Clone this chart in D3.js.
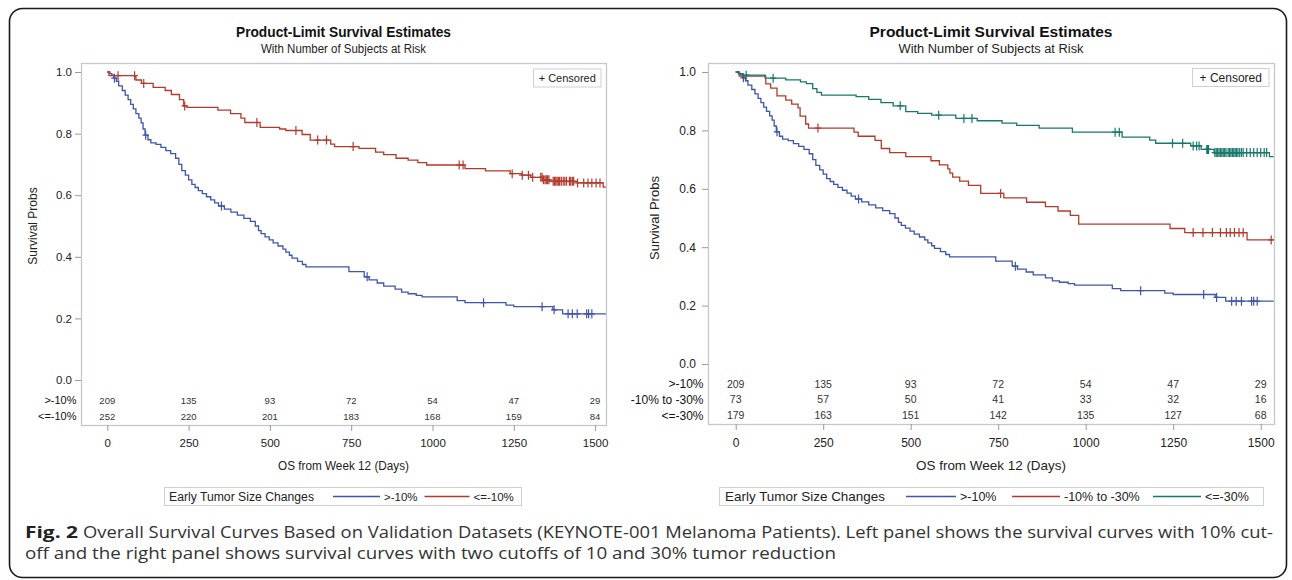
<!DOCTYPE html>
<html><head><meta charset="utf-8">
<script src="https://cdn.jsdelivr.net/npm/d3@7"></script>
<style>body{margin:0;background:#fff}svg{display:block}</style>
</head><body>
<script>
// ---------------- data ----------------
const xTicks = [0, 250, 500, 750, 1000, 1250, 1500];
const yTicks = [0, 0.2, 0.4, 0.6, 0.8, 1.0];
const chartTitle = "Product-Limit Survival Estimates";
const chartSubtitle = "With Number of Subjects at Risk";
const yLabel = "Survival Probs";
const xLabel = "OS from Week 12 (Days)";
const legendTitle = "Early Tumor Size Changes";
const censoredLabel = "+ Censored";
const groupsLeft = [">-10%", "<=-10%"];
const groupsRight = [">-10%", "-10% to -30%", "<=-30%"];
const riskGt10 = [209, 135, 93, 72, 54, 47, 29];
const riskLe10 = [252, 220, 201, 183, 168, 159, 84];
const riskMid = [73, 57, 50, 41, 33, 32, 16];
const riskLe30 = [179, 163, 151, 142, 135, 127, 68];

// >-10% group (same in both panels)
const gt10Days = [0, 8, 14, 20, 28, 35, 46, 55, 64, 72, 80, 88, 97, 104, 110, 116, 125, 134, 150, 165, 180, 195, 210, 220, 229, 240, 250, 260, 270, 280, 292, 305, 318, 330, 342, 360, 380, 400, 420, 440, 455, 465, 473, 485, 498, 510, 525, 540, 549, 560, 568, 585, 600, 611, 743, 790, 805, 830, 850, 885, 905, 925, 950, 968, 1076, 1100, 1226, 1250, 1370, 1400];
const gt10Surv = [1.0, 0.995, 0.99, 0.98, 0.97, 0.955, 0.94, 0.925, 0.91, 0.895, 0.88, 0.865, 0.85, 0.835, 0.815, 0.795, 0.78, 0.77, 0.765, 0.755, 0.745, 0.735, 0.72, 0.70, 0.68, 0.665, 0.65, 0.635, 0.625, 0.615, 0.605, 0.595, 0.585, 0.575, 0.565, 0.555, 0.545, 0.535, 0.525, 0.515, 0.50, 0.485, 0.475, 0.465, 0.455, 0.445, 0.435, 0.425, 0.415, 0.405, 0.396, 0.385, 0.375, 0.367, 0.352, 0.335, 0.325, 0.315, 0.305, 0.295, 0.285, 0.28, 0.275, 0.27, 0.258, 0.251, 0.243, 0.238, 0.228, 0.215];
const gt10Cens = [22, 118, 351, 799, 1157, 1337, 1374, 1417, 1430, 1445, 1474, 1480, 1490];

// <=-10% group (left panel)
const le10Days = [0, 5, 88, 105, 141, 178, 197, 222, 235, 245, 340, 379, 411, 423, 470, 530, 549, 599, 624, 687, 699, 774, 825, 850, 888, 925, 955, 982, 1100, 1163, 1239, 1275, 1302, 1340, 1360, 1445, 1525];
const le10Surv = [1.0, 0.988, 0.974, 0.963, 0.95, 0.94, 0.927, 0.91, 0.89, 0.885, 0.876, 0.865, 0.85, 0.836, 0.82, 0.815, 0.81, 0.797, 0.779, 0.766, 0.758, 0.752, 0.74, 0.732, 0.72, 0.714, 0.706, 0.698, 0.686, 0.679, 0.67, 0.665, 0.658, 0.65, 0.645, 0.64, 0.626];
const le10Cens = [33, 84, 112, 238, 460, 580, 647, 674, 756, 1082, 1094, 1245, 1276, 1295, 1308, 1333, 1337, 1341, 1346, 1350, 1354, 1358, 1371, 1375, 1379, 1383, 1387, 1391, 1396, 1402, 1407, 1412, 1421, 1425, 1430, 1434, 1446, 1465, 1478, 1490, 1503, 1515];

// -10% to -30% group (right panel)
const midDays = [0, 10, 86, 100, 118, 143, 160, 178, 184, 200, 208, 338, 350, 398, 416, 440, 486, 558, 582, 606, 612, 620, 640, 665, 700, 766, 831, 885, 921, 956, 980, 1241, 1283, 1461];
const midSurv = [1.0, 0.986, 0.959, 0.945, 0.918, 0.904, 0.89, 0.877, 0.849, 0.822, 0.808, 0.794, 0.78, 0.766, 0.738, 0.724, 0.71, 0.696, 0.682, 0.668, 0.654, 0.64, 0.626, 0.612, 0.584, 0.569, 0.554, 0.539, 0.524, 0.509, 0.479, 0.464, 0.45, 0.425];
const midCens = [235, 757, 1307, 1335, 1362, 1385, 1402, 1413, 1425, 1438, 1450, 1530];

// <=-30% group (right panel)
const le30Days = [0, 8, 20, 84, 143, 185, 202, 220, 232, 245, 344, 380, 415, 450, 486, 520, 560, 629, 690, 761, 803, 867, 962, 1104, 1183, 1200, 1300, 1330, 1367, 1525];
const le30Surv = [1.0, 0.994, 0.989, 0.979, 0.973, 0.966, 0.96, 0.943, 0.93, 0.921, 0.916, 0.906, 0.895, 0.884, 0.864, 0.858, 0.852, 0.841, 0.833, 0.825, 0.817, 0.808, 0.794, 0.777, 0.767, 0.756, 0.747, 0.735, 0.724, 0.71];
const le30Cens = [30, 107, 470, 580, 652, 675, 1084, 1096, 1248, 1277, 1307, 1317, 1324, 1346, 1348, 1351, 1369, 1373, 1377, 1381, 1385, 1389, 1393, 1397, 1401, 1407, 1411, 1415, 1419, 1423, 1427, 1431, 1435, 1440, 1445, 1450, 1460, 1470, 1480, 1490, 1500, 1510, 1517];

const captionBold = "Fig. 2";
const captionLine1 = "Overall Survival Curves Based on Validation Datasets (KEYNOTE-001 Melanoma Patients). Left panel shows the survival curves with 10% cut-";
const captionLine2 = "off and the right panel shows survival curves with two cutoffs of 10 and 30% tumor reduction";

// ---------------- drawing ----------------
const FONT = '"Liberation Sans", Arial, Helvetica, sans-serif';
const BLUE = "#3f55a9", RED = "#b23a2d", TEAL = "#17786b";
const W = 1292, H = 580;
const svg = d3.select("body").append("svg").attr("width", W).attr("height", H)
  .style("font-family", FONT);

svg.append("rect").attr("x", 9.5).attr("y", 8.5).attr("width", 1277).attr("height", 569)
  .attr("rx", 13).attr("fill", "none").attr("stroke", "#1a1a1a").attr("stroke-width", 1.6);

function survAt(days, surv, t) {
  const i = d3.bisectRight(days, t) - 1;
  return surv[Math.max(0, i)];
}

function drawPanel(cfg, idx) {
  const g = svg.append("g");
  const x = d3.scaleLinear().domain([0, 1500]).range(cfg.xr);
  const y = d3.scaleLinear().domain([0, 1]).range(cfg.yr);
  const cx = (cfg.x0 + cfg.x1) / 2;

  // titles
  g.append("text").attr("x", cx).attr("y", 37).attr("text-anchor", "middle")
    .attr("font-weight", "bold").attr("font-size", 14.5).attr("fill", "#111")
    .attr("textLength", cfg.titleW).attr("lengthAdjust", "spacingAndGlyphs").text(chartTitle);
  g.append("text").attr("x", cx).attr("y", 53).attr("text-anchor", "middle")
    .attr("font-size", 12).attr("fill", "#222")
    .attr("textLength", cfg.subW).attr("lengthAdjust", "spacingAndGlyphs").text(chartSubtitle);

  // frame
  g.append("rect").attr("x", cfg.x0 + 0.5).attr("y", cfg.y0 + 0.5)
    .attr("width", cfg.x1 - cfg.x0).attr("height", cfg.y1 - cfg.y0)
    .attr("fill", "none").attr("stroke", "#c4c8cc").attr("stroke-width", 1.3);

  // y axis
  const ya = g.append("g").attr("transform", `translate(${cfg.x0},0)`)
    .call(d3.axisLeft(y).tickValues(yTicks).tickFormat(d3.format(".1f")).tickSize(6).tickPadding(cfg.yPad));
  ya.select(".domain").remove();
  ya.selectAll(".tick line").attr("stroke", "#9a9a9a");
  ya.selectAll(".tick text").attr("font-family", FONT).attr("font-size", cfg.tickFs).attr("fill", "#222");

  // x axis
  const xa = g.append("g").attr("transform", `translate(0,${cfg.y1})`)
    .call(d3.axisBottom(x).tickValues(xTicks).tickFormat(d3.format("d")).tickSize(6).tickPadding(8));
  xa.select(".domain").remove();
  xa.selectAll(".tick line").attr("stroke", "#9a9a9a");
  xa.selectAll(".tick text").attr("font-family", FONT).attr("font-size", cfg.tickFs).attr("fill", "#222");

  // axis labels
  g.append("text").attr("transform", `translate(${cfg.ylx},${(cfg.yr[0] + cfg.yr[1]) / 2}) rotate(-90)`)
    .attr("text-anchor", "middle").attr("font-size", cfg.labFs).attr("fill", "#222").text(yLabel);
  g.append("text").attr("x", cx).attr("y", 470).attr("text-anchor", "middle")
    .attr("font-size", cfg.labFs).attr("fill", "#222")
    .attr("textLength", cfg.xlabW).attr("lengthAdjust", "spacingAndGlyphs").text(xLabel);

  // clip
  const clipId = "clip" + idx;
  g.append("clipPath").attr("id", clipId).append("rect")
    .attr("x", cfg.x0 + 1).attr("y", cfg.y0 + 1).attr("width", cfg.x1 - cfg.x0 - 1).attr("height", cfg.y1 - cfg.y0 - 1);
  const plot = g.append("g").attr("clip-path", `url(#${clipId})`);

  const line = d3.line().x(d => x(d[0])).y(d => y(d[1])).curve(d3.curveStepAfter);
  cfg.series.forEach(s => {
    const pts = s.days.map((d, i) => [d, s.surv[i]]);
    pts.push([cfg.end, s.surv[s.surv.length - 1]]);
    plot.append("path").attr("d", line(pts)).attr("fill", "none")
      .attr("stroke", s.color).attr("stroke-width", 1.3);
    plot.append("g").selectAll("path").data(s.cens).join("path")
      .attr("d", t => {
        const px = x(t), py = y(survAt(s.days, s.surv, t));
        return `M${px - 3.2},${py}H${px + 3.2}M${px},${py - 4.5}V${py + 4.5}`;
      })
      .attr("stroke", s.color).attr("stroke-width", 1.2).attr("fill", "none");
  });

  // censored legend
  g.append("rect").attr("x", cfg.cens[0]).attr("y", cfg.cens[1]).attr("width", cfg.cens[2]).attr("height", 18)
    .attr("fill", "#fff").attr("stroke", "#d0d0d0");
  g.append("text").attr("x", cfg.cens[0] + cfg.cens[2] / 2).attr("y", cfg.cens[1] + 9).attr("dy", "0.35em")
    .attr("text-anchor", "middle").attr("font-size", cfg.censFs).attr("fill", "#222").text(censoredLabel);

  // at-risk table
  cfg.risk.forEach((r, i) => {
    g.append("text").attr("x", cfg.x0 - 4.5).attr("y", cfg.rowsY[i]).attr("dy", "0.35em")
      .attr("text-anchor", "end").attr("font-size", cfg.rowFs).attr("fill", "#111").text(r.label);
    g.append("g").selectAll("text").data(r.values).join("text")
      .attr("x", (v, j) => x(xTicks[j])).attr("y", cfg.rowsY[i]).attr("dy", "0.35em")
      .attr("text-anchor", "middle").attr("font-size", cfg.numFs).attr("fill", "#333").text(v => v);
  });

  // bottom legend
  const lg = cfg.legend;
  g.append("rect").attr("x", lg.box[0]).attr("y", 487.5).attr("width", lg.box[1] - lg.box[0]).attr("height", 18)
    .attr("fill", "#fff").attr("stroke", "#d0d0d0");
  g.append("text").attr("x", lg.titleX).attr("y", 496.5).attr("dy", "0.35em")
    .attr("font-size", lg.fs).attr("fill", "#222")
    .attr("textLength", lg.titleW).attr("lengthAdjust", "spacingAndGlyphs").text(legendTitle);
  lg.items.forEach(it => {
    g.append("line").attr("x1", it.l0).attr("x2", it.l1).attr("y1", 496.5).attr("y2", 496.5)
      .attr("stroke", it.color).attr("stroke-width", 1.3);
    g.append("text").attr("x", it.l1 + 4).attr("y", 496.5).attr("dy", "0.35em")
      .attr("font-size", lg.fs - 0.5).attr("fill", "#222").text(it.label);
  });
}

drawPanel({
  x0: 81, x1: 606, y0: 63, y1: 425, xr: [107.3, 595.1], yr: [380, 72], end: 1533,
  titleW: 215, subW: 165, xlabW: 131, ylx: 37, labFs: 12, tickFs: 11.5, yPad: 3,
  rowsY: [400.5, 416.5], rowFs: 11, numFs: 9.5,
  cens: [533.5, 69, 67.5], censFs: 11,
  series: [
    { days: gt10Days, surv: gt10Surv, cens: gt10Cens, color: BLUE },
    { days: le10Days, surv: le10Surv, cens: le10Cens, color: RED }
  ],
  risk: [
    { label: groupsLeft[0], values: riskGt10 },
    { label: groupsLeft[1], values: riskLe10 }
  ],
  legend: {
    box: [164.5, 521.5], titleX: 169, titleW: 145, fs: 12,
    items: [
      { l0: 333, l1: 380, color: BLUE, label: groupsLeft[0] },
      { l0: 424.5, l1: 469.5, color: RED, label: groupsLeft[1] }
    ]
  }
}, 0);

drawPanel({
  x0: 708, x1: 1274, y0: 63, y1: 424, xr: [735.7, 1260.7], yr: [364, 72], end: 1537,
  titleW: 243, subW: 185, xlabW: 150, ylx: 659, labFs: 13, tickFs: 12, yPad: 6,
  rowsY: [384, 399.5, 415.5], rowFs: 12, numFs: 10.5,
  cens: [1192.5, 68.5, 76.5], censFs: 12,
  series: [
    { days: gt10Days, surv: gt10Surv, cens: gt10Cens, color: BLUE },
    { days: midDays, surv: midSurv, cens: midCens, color: RED },
    { days: le30Days, surv: le30Surv, cens: le30Cens, color: TEAL }
  ],
  risk: [
    { label: groupsRight[0], values: riskGt10 },
    { label: groupsRight[1], values: riskMid },
    { label: groupsRight[2], values: riskLe30 }
  ],
  legend: {
    box: [719.5, 1263.5], titleX: 725, titleW: 160, fs: 13,
    items: [
      { l0: 906, l1: 956, color: BLUE, label: groupsRight[0] },
      { l0: 1012, l1: 1060, color: RED, label: groupsRight[1] },
      { l0: 1153, l1: 1201, color: TEAL, label: groupsRight[2] }
    ]
  }
}, 1);

// caption
const CAP = '"Open Sans", "Noto Sans", sans-serif';
svg.append("text").attr("x", 25).attr("y", 538).attr("font-family", CAP).attr("font-weight", "bold")
  .attr("font-size", 16.4).attr("fill", "#222")
  .attr("textLength", 53).attr("lengthAdjust", "spacingAndGlyphs").text(captionBold);
svg.append("text").attr("x", 83).attr("y", 538).attr("font-family", CAP)
  .attr("font-size", 16.4).attr("fill", "#333")
  .attr("textLength", 1190).attr("lengthAdjust", "spacingAndGlyphs").text(captionLine1);
svg.append("text").attr("x", 25).attr("y", 559).attr("font-family", CAP)
  .attr("font-size", 16.4).attr("fill", "#333")
  .attr("textLength", 811).attr("lengthAdjust", "spacingAndGlyphs").text(captionLine2);
</script>
</body></html>
